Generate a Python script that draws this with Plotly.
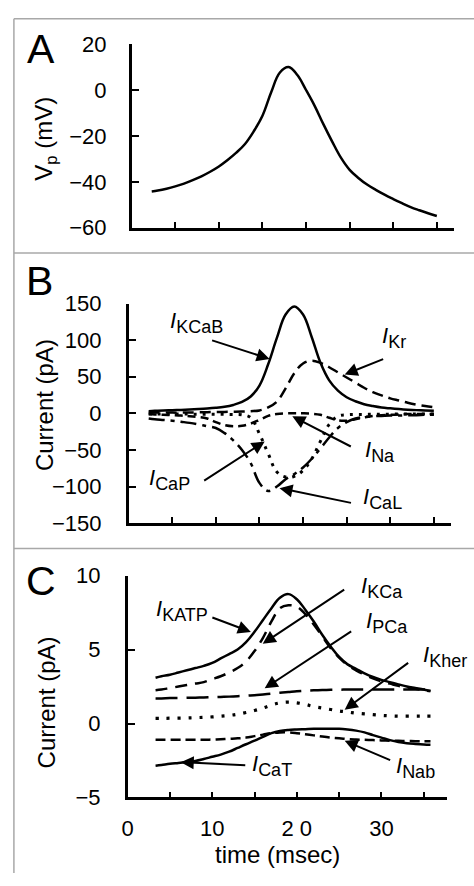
import plotly.graph_objects as go

W, H = 474, 886
FONT = "Liberation Sans, Arial, sans-serif"

# ---- Panel A: membrane potential ----
tA = [2.3, 3, 4, 5, 6, 7, 8, 9, 10, 11, 12, 13, 14, 15, 16, 17, 18, 19, 20,
      21, 22, 23, 24, 25, 26, 27, 28, 29, 30, 31, 32, 33, 34, 35]
Vp = [-44.2, -43.8, -43.0, -42.0, -40.8, -39.3, -37.6, -35.6, -33.3, -30.5,
      -27.3, -23.5, -18.0, -11.2, -1.0, 7.6, 10.0, 6.5, 0.0, -7.0, -15.0,
      -22.5, -29.5, -34.8, -38.3, -41.2, -43.5, -45.6, -47.5, -49.3, -51.0,
      -52.4, -53.7, -54.9]

# ---- Panel B: large currents (pA) ----
tB = [2.3, 3, 4, 5, 6, 7, 8, 9, 10, 11, 12, 13, 14, 15, 16, 17, 18, 19, 20,
      21, 22, 23, 24, 25, 26, 27, 28, 29, 30, 31, 32, 33, 34, 35]
I_KCaB = [3, 3.5, 4, 4.3, 4.7, 5.2, 5.8, 6.5, 7.5, 9, 11.5, 15.5, 23, 38, 67,
          103, 135, 146, 135, 104, 69, 45, 31, 22, 16.5, 12.5, 10, 8, 6.8,
          5.8, 5, 4.4, 4, 3.6]
I_Kr = [1, 1, 1, 1, 1, 1.2, 1.4, 1.6, 1.8, 2, 2.2, 2.5, 3, 4, 8, 16, 34, 55,
        68, 72, 69, 63, 56, 49, 42, 35, 29, 24.5, 20.5, 17.5, 14.5, 12, 10, 8.5]
I_Na = [-1, -1.5, -2, -2.5, -3, -4, -5, -7, -12, -16, -17.5, -17, -14, -9,
        -3.5, -1, 0, 0, 0, -0.5, -2, -6, -9.5, -10, -8, -5.5, -3.5, -2.5, -2,
        -1.5, -1, -1, -1, -1]
I_CaP = [-1, -1, -1, -1, -1, -1, -1.2, -1.2, -1.3, -1.4, -1.5, -2, -6, -28,
         -55, -80, -87, -86, -78, -62, -38, -15, -4, -2, -1.5, -1.5, -1.3,
         -1.2, -1.1, -1, -1, -1, -1, -1]
I_CaL = [-7, -8, -9, -10, -11.5, -13, -15, -17.5, -20, -27, -37, -50, -68,
         -95, -106, -100, -90, -83, -74, -62, -48, -33, -20, -12, -7, -5, -4,
         -3.5, -3, -3, -2.5, -2.5, -2, -2]

# ---- Panel C: small currents (pA) ----
tC = [3.3, 4, 5, 6, 7, 8, 9, 10, 11, 12, 13, 14, 15, 16, 17, 18, 19, 20, 21,
      22, 23, 24, 25, 26, 27, 28, 29, 30, 31, 32, 33, 34, 35, 35.8]
I_KATP = [3.1, 3.2, 3.3, 3.45, 3.6, 3.75, 3.9, 4.1, 4.4, 4.7, 5.0, 5.5, 6.2,
          7.0, 7.8, 8.5, 8.75, 8.4, 7.7, 6.9, 6.0, 5.2, 4.5, 4.0, 3.7, 3.4,
          3.15, 2.95, 2.8, 2.65, 2.5, 2.4, 2.3, 2.2]
I_KCa = [2.25, 2.3, 2.4, 2.5, 2.6, 2.7, 2.8, 3.0, 3.2, 3.45, 3.75, 4.2, 4.9,
         5.8, 6.9, 7.8, 8.0, 7.9, 7.4, 6.7, 5.9, 5.1, 4.45, 3.95, 3.6, 3.3,
         3.05, 2.85, 2.7, 2.55, 2.45, 2.35, 2.25, 2.2]
I_PCa = [1.7, 1.7, 1.72, 1.72, 1.74, 1.75, 1.76, 1.78, 1.8, 1.82, 1.85, 1.88,
         1.92, 1.97, 2.02, 2.08, 2.13, 2.18, 2.22, 2.25, 2.27, 2.28, 2.29,
         2.3, 2.3, 2.3, 2.3, 2.3, 2.3, 2.3, 2.3, 2.3, 2.3, 2.3]
I_Kher = [0.35, 0.35, 0.36, 0.37, 0.38, 0.4, 0.42, 0.45, 0.5, 0.55, 0.63,
          0.75, 0.88, 1.05, 1.25, 1.4, 1.45, 1.4, 1.3, 1.15, 1.05, 0.95, 0.85,
          0.78, 0.7, 0.65, 0.6, 0.55, 0.52, 0.5, 0.5, 0.5, 0.5, 0.5]
I_Nab = [-1.1, -1.1, -1.1, -1.1, -1.1, -1.1, -1.1, -1.08, -1.06, -1.03,
         -1.0, -0.95, -0.85, -0.75, -0.65, -0.6, -0.6, -0.65, -0.72, -0.8,
         -0.88, -0.95, -1.0, -1.05, -1.08, -1.1, -1.12, -1.14, -1.16, -1.17,
         -1.18, -1.19, -1.2, -1.2]
I_CaT = [-2.85, -2.8, -2.72, -2.66, -2.6, -2.53, -2.4, -2.25, -2.1, -1.9,
         -1.65, -1.4, -1.16, -0.9, -0.65, -0.5, -0.43, -0.4, -0.38, -0.36,
         -0.35, -0.35, -0.35, -0.4, -0.48, -0.6, -0.78, -0.95, -1.12, -1.25,
         -1.33, -1.38, -1.42, -1.44]

# tick values / labels of the time axis
time_ticks = [0, 5, 10, 15, 20, 25, 30, 35]
time_ticktext = ["0", "", "10", "", "2 0", "", "30", ""]


def px(x):
    return x / W


def py(y):
    return 1 - y / H


fig = go.Figure()

LW = 2.5


def add_line(x, y, xa, ya, dash="solid", width=LW):
    fig.add_trace(go.Scatter(
        x=x, y=y, mode="lines", xaxis=xa, yaxis=ya,
        line=dict(color="black", width=width, dash=dash,
                  shape="spline", smoothing=1.1),
        showlegend=False, hoverinfo="skip"))


add_line(tA, Vp, "x", "y")

add_line(tB, I_KCaB, "x2", "y2")
add_line(tB, I_Kr, "x2", "y2", dash="11px,6px")
add_line(tB, I_Na, "x2", "y2", dash="8px,5px")
add_line(tB, I_CaP, "x2", "y2", dash="3px,6px", width=3)
add_line(tB, I_CaL, "x2", "y2", dash="16px,6px,4px,6px")

add_line(tC, I_KATP, "x3", "y3")
add_line(tC, I_KCa, "x3", "y3", dash="12px,8px")
add_line(tC, I_PCa, "x3", "y3", dash="22px,9px")
add_line(tC, I_Kher, "x3", "y3", dash="3px,8px", width=3.2)
add_line(tC, I_Nab, "x3", "y3", dash="10px,5px")
add_line(tC, I_CaT, "x3", "y3")

axis_common = dict(
    showline=True, linecolor="black", linewidth=2.5, ticks="inside",
    tickcolor="black", tickwidth=2, showgrid=False, zeroline=False,
    tickfont=dict(family=FONT, size=22, color="black"), fixedrange=True)

# axes of the three panels
fig.update_layout(
    xaxis=dict(domain=[px(127.3), px(454)], range=[0, 37], anchor="y",
               tickvals=time_ticks[1:], ticklen=6, showticklabels=False,
               **axis_common),
    yaxis=dict(domain=[py(222), py(33)], range=[-60, 20], anchor="x",
               tickvals=[-60, -40, -20, 0, 20], ticklen=8,
               ticklabelstandoff=18, **axis_common),
    xaxis2=dict(domain=[px(124.2), px(451)], range=[0, 37], anchor="y2",
                tickvals=time_ticks[1:], ticklen=6, showticklabels=False,
                **axis_common),
    yaxis2=dict(domain=[py(526), py(300)], range=[-150, 150], anchor="x2",
                tickvals=[-150, -100, -50, 0, 50, 100, 150], ticklen=8,
                ticklabelstandoff=20, **axis_common),
    xaxis3=dict(domain=[px(123.2), px(446.2)], range=[0, 37.7], anchor="y3",
                tickvals=time_ticks, ticktext=time_ticktext, ticklen=6,
                ticklabelstandoff=9, **axis_common),
    yaxis3=dict(domain=[py(808.3), py(580)], range=[-5, 10], anchor="x3",
                tickvals=[-5, 0, 5, 10], ticklen=8, ticklabelstandoff=20,
                **axis_common),
)

ann = []

# panel letters
for letter, cx, cy in [("A", 35, 38), ("B", 34, 277), ("C", 35, 586)]:
    ann.append(dict(text=letter, x=px(cx), y=py(cy), xref="paper",
                    yref="paper", showarrow=False, xanchor="center",
                    yanchor="middle", font=dict(family=FONT, size=41,
                                                color="black")))

# axis titles
for txt, cx, cy in [("V<sub>p</sub> (mV)", 40, 130),
                    ("Current (pA)", 39, 405),
                    ("Current (pA)", 41, 710)]:
    ann.append(dict(text=txt, x=px(cx), y=py(cy), xref="paper",
                    yref="paper", showarrow=False, textangle=-90,
                    xanchor="center", yanchor="middle",
                    font=dict(family=FONT, size=24, color="black")))
ann.append(dict(text="time (msec)", x=px(275), y=py(867), xref="paper",
                yref="paper", showarrow=False, xanchor="center",
                yanchor="middle", font=dict(family=FONT, size=24,
                                            color="black")))

# current labels: (subscript, left x, middle y)
labels = [("KCaB", 164, 320), ("Kr", 379, 335), ("Na", 362, 452),
          ("CaP", 143, 481), ("CaL", 360, 501),
          ("KATP", 150, 616), ("KCa", 358, 592), ("PCa", 363, 628),
          ("Kher", 420, 663), ("CaT", 247, 775), ("Nab", 393, 777)]
for sub, lx, cy in labels:
    ann.append(dict(
        text="<i>I</i><sub><span style='font-size:18px'>%s</span></sub>" % sub,
        x=px(lx), y=py(cy), xref="paper", yref="paper", showarrow=False,
        xanchor="left", yanchor="middle",
        font=dict(family=FONT, size=22, color="black")))

# arrows: (tail x, tail y, head x, head y)
arrows = [(208, 338, 267, 357), (383, 357, 343, 373), (350, 447, 290, 416),
          (200, 482, 262, 442), (350, 505, 277, 490),
          (208, 623, 248, 638), (343, 595, 260, 650), (350, 638, 262, 696),
          (408, 670, 343, 718), (243, 775, 177, 772), (390, 770, 343, 750)]
for tx, ty, hx, hy in arrows:
    ann.append(dict(text="", x=px(hx), y=py(hy), xref="paper", yref="paper",
                    showarrow=True, ax=tx - hx, ay=ty - hy, axref="pixel",
                    ayref="pixel", arrowhead=2, arrowsize=1.3,
                    arrowwidth=2, arrowcolor="black", standoff=0,
                    startstandoff=0))

fig.update_layout(annotations=ann)

# panel frame lines
shapes = []
GRAY = "#a8a8a8"
for y0 in [7, 248, 552]:
    shapes.append(dict(type="line", xref="paper", yref="paper",
                       x0=px(8), x1=1, y0=py(y0), y1=py(y0),
                       line=dict(color=GRAY, width=1.5)))
shapes.append(dict(type="line", xref="paper", yref="paper",
                   x0=px(8), x1=px(8), y0=py(7), y1=0,
                   line=dict(color=GRAY, width=1.5)))
fig.update_layout(shapes=shapes)

fig.update_layout(width=W, height=H, margin=dict(l=0, r=0, t=0, b=0),
                  paper_bgcolor="white", plot_bgcolor="white",
                  font=dict(family=FONT, color="black"))

fig.write_html("out.html", config={"displayModeBar": False})
